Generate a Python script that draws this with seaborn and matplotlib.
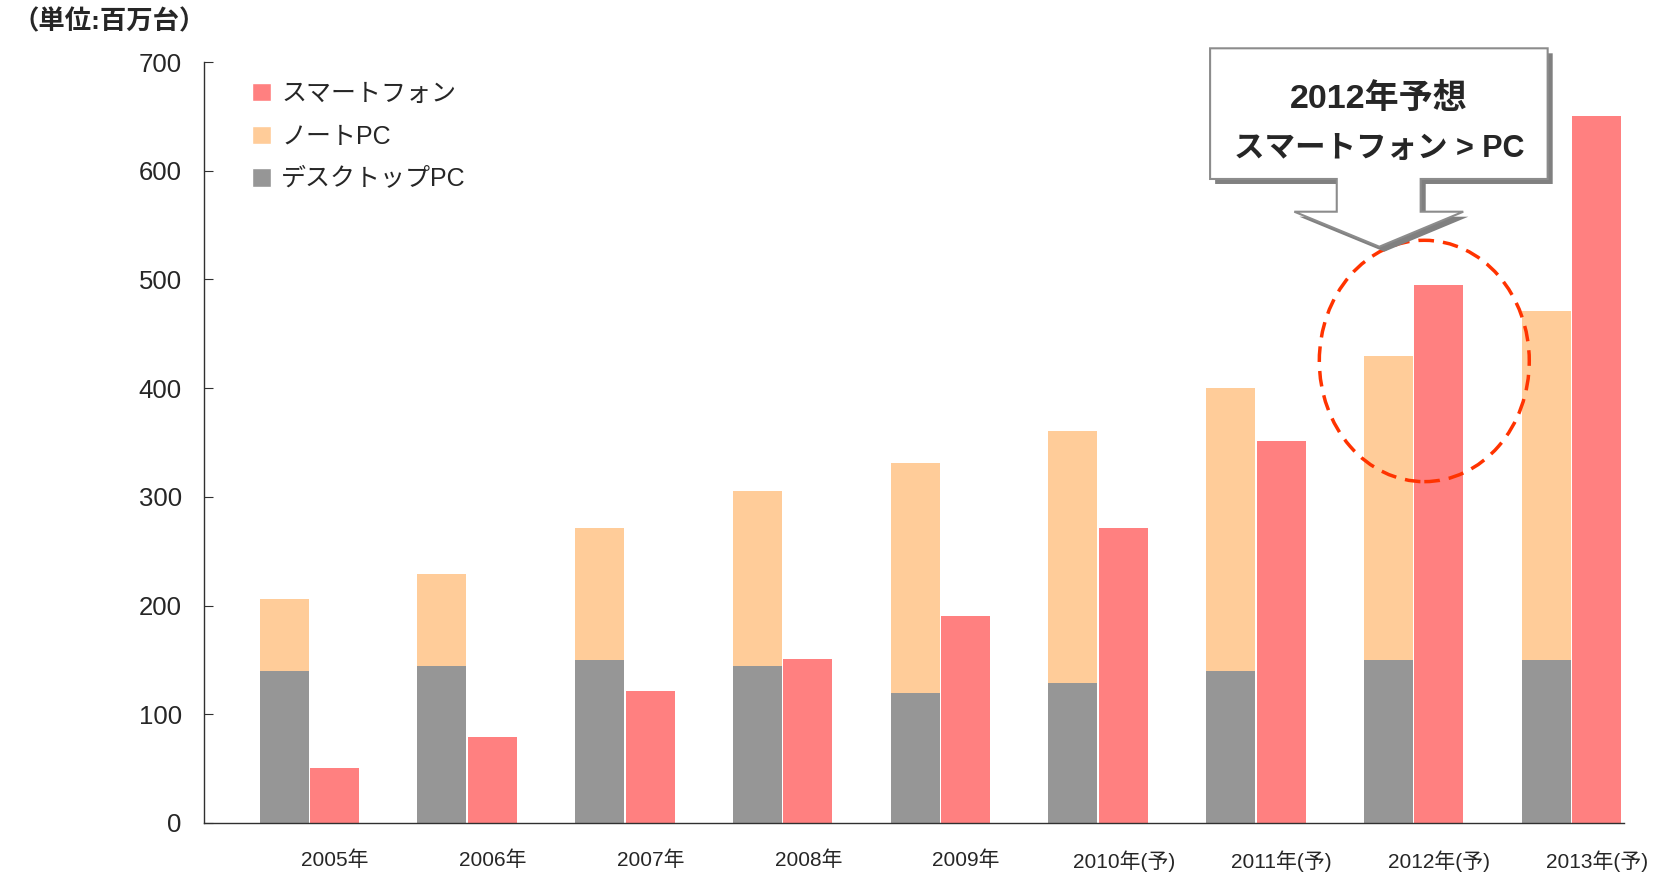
import numpy as np
import pandas as pd
import seaborn as sns
import matplotlib.pyplot as plt
from matplotlib.patches import Patch, Polygon, Ellipse

# values (million units)
years = ['2005年', '2006年', '2007年', '2008年', '2009年',
         '2010年(予)', '2011年(予)', '2012年(予)', '2013年(予)']
desktop_pc = [140, 144, 150, 144, 120, 129, 140, 150, 150]
notebook_pc = [66, 85, 121, 161, 211, 232, 260, 280, 321]
smartphone = [51, 79, 121, 151, 190, 271, 351, 495, 650]
y_ticks = [0, 100, 200, 300, 400, 500, 600, 700]

PINK = '#FF8080'
ORANGE = '#FFCC99'
GRAY = '#969696'
FONTS = ['Liberation Sans', 'Noto Sans CJK JP', 'DejaVu Sans']

sns.set_style('white')
plt.rcParams['font.family'] = FONTS

pc_total = [d + n for d, n in zip(desktop_pc, notebook_pc)]
kinds = ['PC'] * len(years) + ['スマートフォン'] * len(years)
upper = pd.DataFrame({'year': years * 2, 'kind': kinds, 'value': pc_total + smartphone})
lower = pd.DataFrame({'year': years * 2, 'kind': kinds, 'value': desktop_pc + smartphone})

fig = plt.figure(figsize=(16.56, 8.75), dpi=100)
ax = fig.add_axes([204 / 1656, 1 - 823 / 875, 1420 / 1656, 761 / 875])

bar_kw = dict(x='year', y='value', hue='kind', hue_order=['PC', 'スマートフォン'],
              width=0.64, gap=0.03, linewidth=0, saturation=1,
              errorbar=None, legend=False, ax=ax)
sns.barplot(data=upper, palette={'PC': ORANGE, 'スマートフォン': PINK}, **bar_kw)
sns.barplot(data=lower, palette={'PC': GRAY, 'スマートフォン': PINK}, **bar_kw)

ax.set_xlim(-0.668, 8.334)
ax.set_ylim(0, 700)
ax.set_xlabel('')
ax.set_ylabel('')
for side in ['top', 'right']:
    ax.spines[side].set_visible(False)
for side in ['left', 'bottom']:
    ax.spines[side].set_color('#303030')
    ax.spines[side].set_linewidth(1.0)

idx = np.arange(len(years))
ax.set_xticks(idx + 0.163, years)
ax.set_xticks(np.concatenate([idx - 0.32, idx, idx + 0.32]), minor=True)
ax.tick_params(axis='x', which='major', length=0, pad=20, labelsize=15)
ax.tick_params(axis='x', which='minor', direction='in', length=4.5, width=0.8, color='#303030')
ax.set_yticks(y_ticks)
ax.tick_params(axis='y', direction='in', length=6.5, width=0.8, color='#303030',
               pad=16, labelsize=18.5, left=True)

handles = [Patch(facecolor=PINK, label='スマートフォン'),
           Patch(facecolor=ORANGE, label='ノートPC'),
           Patch(facecolor=GRAY, label='デスクトップPC')]
ax.legend(handles=handles, loc='upper left', bbox_to_anchor=(0.034, 0.974),
          frameon=False, fontsize=18, handlelength=0.75, handleheight=0.75,
          handletextpad=0.4, labelspacing=0.75, borderpad=0, borderaxespad=0)

fig.text(12 / 1656, 1 - 22 / 875, '（単位:百万台）', fontsize=19, fontweight='bold',
         va='center', ha='left')

# dashed highlight around 2012
ax.add_patch(Ellipse((7.068, 425), 1.331, 222, fill=False, edgecolor='#FF3300',
                     linewidth=2.5, linestyle=(0, (4.5, 2.6)), zorder=5, clip_on=False))

# callout box with arrow
callout = [(5.710, 712.6), (7.850, 712.6), (7.850, 592.4), (7.045, 592.4),
           (7.045, 562.3), (7.315, 562.3), (6.783, 530.1), (6.244, 562.3),
           (6.513, 562.3), (6.513, 592.4), (5.710, 592.4)]
shadow = [(x + 0.032, y - 4.6) for x, y in callout]
ax.add_patch(Polygon(shadow, closed=True, facecolor='#808080', edgecolor='none',
                     zorder=6, clip_on=False))
ax.add_patch(Polygon(callout, closed=True, facecolor='white', edgecolor='#8C8C8C',
                     linewidth=1.5, zorder=7, clip_on=False))
ax.text(6.781, 666, '2012年予想', fontsize=24.5, fontweight='bold', ha='center',
        va='center', zorder=8, clip_on=False)
ax.text(6.781, 620, 'スマートフォン > PC', fontsize=22, fontweight='bold', ha='center',
        va='center', zorder=8, clip_on=False)

fig.savefig('out.png', dpi=100)
plt.close(fig)
